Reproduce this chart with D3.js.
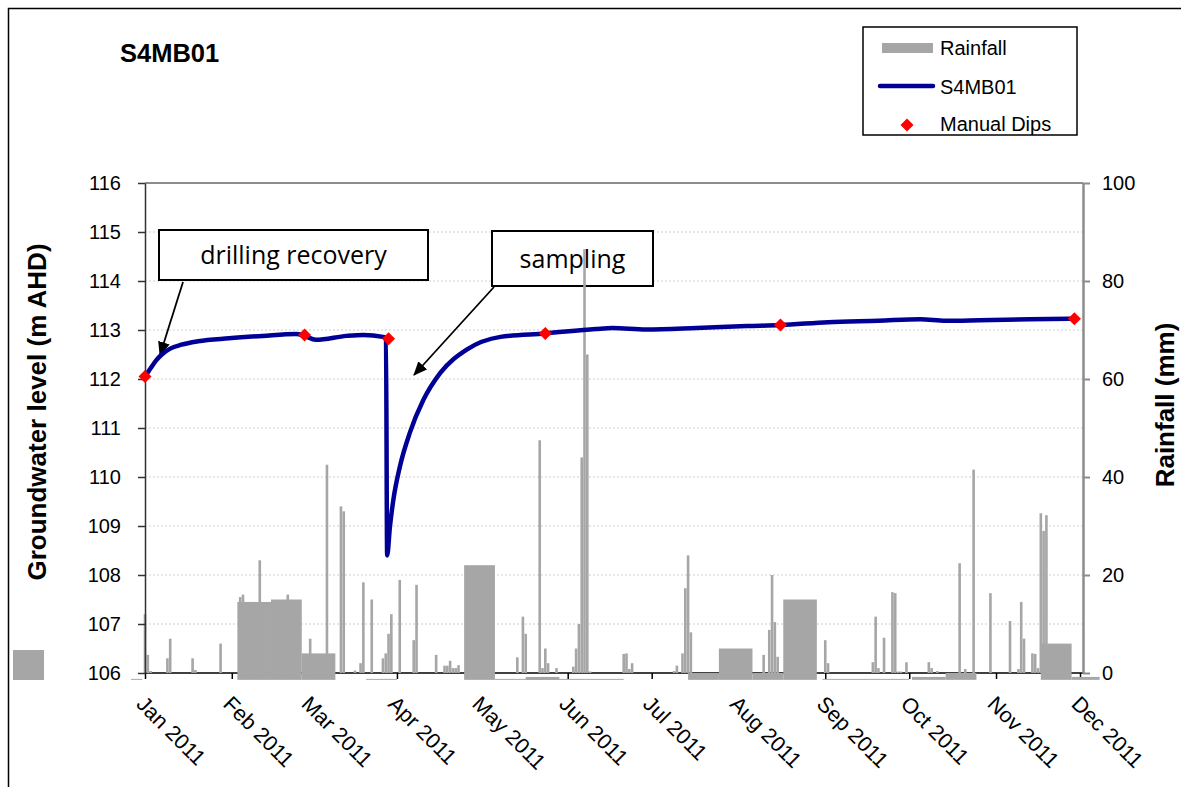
<!DOCTYPE html>
<html lang="en">
<head>
<meta charset="UTF-8">
<title>S4MB01</title>
<script src="https://cdn.jsdelivr.net/npm/d3@7/dist/d3.min.js"></script>
<style>
    body { margin: 0; background: #fff; }
    svg { display: block; font-family: "Liberation Sans", Arial, sans-serif; }
    .grid line { stroke: #cfcfcf; stroke-width: 1; stroke-dasharray: 2,2; }
    .tick text { font-size: 20px; fill: #000; }
    .callout text { font-family: "Open Sans", "Noto Sans", sans-serif; font-size: 25px; }
</style>
</head>
<body>
<script>
    const width = 1181;
    const height = 787;

    // groundwater level S4MB01 (m AHD), logger
    const levelDates = ['2011-01-01', '2011-01-03', '2011-01-05', '2011-01-07', '2011-01-10', '2011-01-14', '2011-01-20',
        '2011-01-31', '2011-02-12', '2011-02-24', '2011-02-27', '2011-03-03', '2011-03-14', '2011-03-20', '2011-03-27',
        '2011-03-28 02:00', '2011-03-28 12:00', '2011-03-29 12:00', '2011-03-30 17:00', '2011-04-02 02:00',
        '2011-04-05 14:00', '2011-04-10 10:00', '2011-04-16 10:00', '2011-04-25 22:00', '2011-05-08', '2011-05-24',
        '2011-06-11', '2011-06-17', '2011-06-29', '2011-07-17', '2011-08-04', '2011-08-16', '2011-09-02',
        '2011-09-20', '2011-10-05', '2011-10-14', '2011-10-26', '2011-11-13', '2011-11-29'];
    const levelValues = [112.05, 112.22, 112.38, 112.50, 112.62, 112.70, 112.77,
        112.83, 112.88, 112.92, 112.88, 112.80, 112.88, 112.90, 112.86,
        112.84, 108.40, 108.99, 109.53, 110.22,
        110.90, 111.57, 112.12, 112.60, 112.86, 112.93,
        113.02, 113.04, 113.01, 113.04, 113.08, 113.10, 113.16,
        113.19, 113.22, 113.19, 113.20, 113.22, 113.23];

    // manual dips
    const dipDates = ['2011-01-01', '2011-02-27', '2011-03-29', '2011-05-24', '2011-08-16', '2011-11-29'];
    const dipValues = [112.05, 112.90, 112.82, 112.93, 113.10, 113.23];

    // daily rainfall (mm)
    const rainDates = ['2011-01-01', '2011-01-02', '2011-01-03', '2011-01-09', '2011-01-10', '2011-01-18', '2011-01-19', '2011-01-28',
        '2011-02-04', '2011-02-05', '2011-02-11', '2011-02-21',
        '2011-03-01', '2011-03-07', '2011-03-12', '2011-03-13', '2011-03-17', '2011-03-19', '2011-03-20', '2011-03-23',
        '2011-03-27', '2011-03-28', '2011-03-29', '2011-03-30',
        '2011-04-02', '2011-04-07', '2011-04-08', '2011-04-15', '2011-04-18', '2011-04-19', '2011-04-20', '2011-04-21', '2011-04-22', '2011-04-23',
        '2011-05-14', '2011-05-16', '2011-05-17', '2011-05-22', '2011-05-23', '2011-05-24', '2011-05-25', '2011-05-28',
        '2011-06-03', '2011-06-04', '2011-06-05', '2011-06-06', '2011-06-07', '2011-06-08', '2011-06-09',
        '2011-06-21', '2011-06-22', '2011-06-23', '2011-06-24',
        '2011-07-09', '2011-07-10', '2011-07-12', '2011-07-13', '2011-07-14', '2011-07-15',
        '2011-08-10', '2011-08-12', '2011-08-13', '2011-08-14', '2011-08-15',
        '2011-09-01', '2011-09-02', '2011-09-18', '2011-09-19', '2011-09-20', '2011-09-22', '2011-09-25', '2011-09-26',
        '2011-09-27', '2011-09-28', '2011-09-30',
        '2011-10-08', '2011-10-09', '2011-10-11', '2011-10-19', '2011-10-21', '2011-10-24', '2011-10-30',
        '2011-11-06', '2011-11-09', '2011-11-10', '2011-11-11', '2011-11-14', '2011-11-15', '2011-11-16',
        '2011-11-17', '2011-11-18', '2011-11-19'];
    const rainValues = [12, 3.7, 0.4, 3, 7, 3, 0.6, 6,
        15.5, 16, 23, 16,
        7, 42.5, 34, 33, 0.5, 2, 18.5, 15,
        3, 4, 8, 12,
        19, 6.7, 18, 3.7, 1.5, 1.5, 2.5, 1, 1, 1.6,
        3.2, 11.5, 8, 47.5, 1, 5, 2, 1,
        1.3, 5, 10, 44, 86.5, 65, 0.3,
        3.9, 4, 0.8, 2,
        0.4, 1.5, 4, 17.3, 24, 8.3,
        3.7, 8.8, 20, 10.4, 3.3,
        6.7, 2, 2.2, 11.5, 1, 7.2, 16.5, 16.3,
        0.3, 0.3, 2.2,
        2.2, 1, 0.4, 22.4, 0.8, 41.5, 16.3,
        10.6, 0.8, 14.5, 7, 4, 3.9, 1,
        32.6, 29, 32.2];

    // accumulated rainfall over unlogged periods (mm), drawn from a lower base
    const periodStart = ['2010-12-27', '2011-02-03', '2011-02-15', '2011-02-26', '2011-03-21', '2011-04-25', '2011-05-06',
        '2011-05-17', '2011-07-14', '2011-07-25', '2011-08-06', '2011-08-17', '2011-08-31', '2011-10-02',
        '2011-10-14', '2011-11-17', '2011-11-28'];
    const periodEnd = ['2010-12-31', '2011-02-15', '2011-02-26', '2011-03-10', '2011-04-01', '2011-05-06', '2011-06-21',
        '2011-05-29', '2011-07-25', '2011-08-06', '2011-08-17', '2011-08-29', '2011-10-01', '2011-10-14',
        '2011-10-25', '2011-11-28', '2011-12-08'];
    const periodValues = [-1.2, 14.5, 15, 4, -1.2, 22, -1.2,
        -0.8, 0, 5, 0, 15, -1.2, -0.8,
        0, 6, -0.8];
    const periodBase = -1.4;

    const levelTicks = d3.range(106, 117);
    const rainTicks = [0, 20, 40, 60, 80, 100];

    const parseDay = d3.timeParse('%Y-%m-%d');
    const parseHour = d3.timeParse('%Y-%m-%d %H:%M');
    const toDate = s => s.length > 10 ? parseHour(s) : parseDay(s);

    const level = levelDates.map((d, i) => ({ date: toDate(d), v: levelValues[i] }));
    const dips = dipDates.map((d, i) => ({ date: toDate(d), v: dipValues[i] }));
    const rain = rainDates.map((d, i) => ({ date: toDate(d), v: rainValues[i] }));
    const periods = periodStart.map((d, i) => ({ s: toDate(d), e: toDate(periodEnd[i]), v: periodValues[i] }));
    const monthTicks = d3.timeMonth.range(toDate('2011-01-01'), toDate('2011-12-02'));

    const plotLeft = 145, plotRight = 1083, plotTop = 183, plotBottom = 673;

    const x = d3.scaleTime()
        .domain([toDate('2011-01-01'), toDate('2011-12-01')])
        .range([plotLeft, 1080]);
    const yL = d3.scaleLinear().domain([106, 116]).range([plotBottom, plotTop]);
    const yR = d3.scaleLinear().domain([0, 100]).range([plotBottom, plotTop]);

    const svg = d3.select('body')
        .append('svg')
        .attr('width', width)
        .attr('height', height);

    // chart border
    svg.append('rect')
        .attr('x', 8.5).attr('y', 8.5)
        .attr('width', 1185).attr('height', 795)
        .attr('fill', 'none').attr('stroke', '#000').attr('stroke-width', 1.5);

    svg.append('text')
        .attr('x', 120).attr('y', 62)
        .style('font-size', '25.5px').style('font-weight', 'bold')
        .text('S4MB01');

    // gridlines
    svg.append('g').attr('class', 'grid')
        .selectAll('line')
        .data(levelTicks.filter(t => t > 106 && t < 116))
        .enter().append('line')
        .attr('x1', plotLeft).attr('x2', plotRight)
        .attr('y1', d => yL(d)).attr('y2', d => yL(d));

    // plot frame top
    svg.append('line')
        .attr('x1', plotLeft).attr('x2', plotRight)
        .attr('y1', plotTop).attr('y2', plotTop)
        .attr('stroke', '#8c8c8c').attr('stroke-width', 2);

    // callouts (rain columns are drawn over them)
    svg.append('defs').append('marker')
        .attr('id', 'arrow')
        .attr('markerUnits', 'userSpaceOnUse')
        .attr('viewBox', '0 0 14 12')
        .attr('refX', 13).attr('refY', 6)
        .attr('markerWidth', 14).attr('markerHeight', 12)
        .attr('orient', 'auto')
        .append('path')
        .attr('d', 'M0,0 L14,6 L0,12 Z')
        .attr('fill', '#000');

    const callouts = [
        { label: 'drilling recovery', x0: 159, y0: 230, w: 269, h: 50, ax: 183, ay: 282, tx: 160, ty: 355 },
        { label: 'sampling', x0: 492, y0: 231, w: 161, h: 55, ax: 494, ay: 287, tx: 414, ty: 375 }
    ];
    const co = svg.append('g').attr('class', 'callout')
        .selectAll('g')
        .data(callouts)
        .enter().append('g');
    co.append('line')
        .attr('x1', d => d.ax).attr('y1', d => d.ay)
        .attr('x2', d => d.tx).attr('y2', d => d.ty)
        .attr('stroke', '#000').attr('stroke-width', 1.8)
        .attr('marker-end', 'url(#arrow)');
    co.append('rect')
        .attr('x', d => d.x0).attr('y', d => d.y0)
        .attr('width', d => d.w).attr('height', d => d.h)
        .attr('fill', '#fff').attr('stroke', '#000').attr('stroke-width', 2);
    co.append('text')
        .attr('x', d => d.x0 + d.w / 2)
        .attr('y', d => d.y0 + d.h / 2 + 9)
        .style('text-anchor', 'middle')
        .text(d => d.label);

    // x axis
    const xAxis = svg.append('g')
        .attr('transform', 'translate(0,' + plotBottom + ')')
        .call(d3.axisBottom(x).tickValues(monthTicks).tickSize(6).tickSizeOuter(0)
            .tickFormat(d3.timeFormat('%b %Y')));
    xAxis.select('.domain').remove();
    xAxis.selectAll('.tick line').attr('stroke', '#000').attr('stroke-width', 1.5);
    xAxis.selectAll('.tick text')
        .attr('x', 0).attr('y', 0).attr('dy', '0.35em')
        .attr('transform', 'translate(-5,27) rotate(45)')
        .style('text-anchor', 'start')
        .style('font-size', '21.5px');
    svg.append('line')
        .attr('x1', plotLeft).attr('x2', plotRight)
        .attr('y1', plotBottom).attr('y2', plotBottom)
        .attr('stroke', '#000').attr('stroke-width', 1.5);

    // rainfall: period blocks then daily columns
    const rainColor = '#a6a6a6';
    svg.append('g')
        .selectAll('rect')
        .data(periods)
        .enter().append('rect')
        .attr('x', d => x(d.s))
        .attr('width', d => x(d.e) - x(d.s))
        .attr('y', d => yR(d.v))
        .attr('height', d => yR(periodBase) - yR(d.v))
        .attr('fill', rainColor);

    svg.append('g')
        .selectAll('rect')
        .data(rain)
        .enter().append('rect')
        .attr('x', d => x(d.date) - 1.3)
        .attr('width', 2.6)
        .attr('y', d => yR(d.v))
        .attr('height', d => yR(0) - yR(d.v))
        .attr('fill', rainColor);

    // left axis
    const leftAxis = svg.append('g')
        .attr('transform', 'translate(' + plotLeft + ',0)')
        .call(d3.axisLeft(yL).tickValues(levelTicks).tickSize(7).tickSizeOuter(0).tickPadding(17)
            .tickFormat(d3.format('d')));
    leftAxis.select('.domain').attr('stroke', '#333').attr('stroke-width', 1.5);
    leftAxis.selectAll('.tick line').attr('stroke', '#333').attr('stroke-width', 1.5);

    // right axis
    const rightAxis = svg.append('g')
        .attr('transform', 'translate(' + plotRight + ',0)')
        .call(d3.axisRight(yR).tickValues(rainTicks).tickSize(7).tickSizeOuter(0).tickPadding(12));
    rightAxis.select('.domain').attr('stroke', '#8c8c8c').attr('stroke-width', 2.5);
    rightAxis.selectAll('.tick line').attr('stroke', '#8c8c8c').attr('stroke-width', 2);

    svg.append('text')
        .attr('transform', 'translate(46,412) rotate(-90)')
        .style('text-anchor', 'middle')
        .style('font-size', '26px').style('font-weight', 'bold')
        .text('Groundwater level (m AHD)');
    svg.append('text')
        .attr('transform', 'translate(1174,405) rotate(-90)')
        .style('text-anchor', 'middle')
        .style('font-size', '26px').style('font-weight', 'bold')
        .text('Rainfall (mm)');

    // groundwater line
    const line = d3.line()
        .x(d => x(d.date))
        .y(d => yL(d.v))
        .curve(d3.curveMonotoneX);
    svg.append('path')
        .datum(level)
        .attr('d', line)
        .attr('fill', 'none')
        .attr('stroke', '#000096')
        .attr('stroke-width', 4.5)
        .attr('stroke-linejoin', 'round');

    const diamond = d3.symbol().type(d3.symbolSquare).size(85);
    svg.append('g')
        .selectAll('path')
        .data(dips)
        .enter().append('path')
        .attr('d', diamond)
        .attr('transform', d => 'translate(' + x(d.date) + ',' + yL(d.v) + ') rotate(45)')
        .attr('fill', '#ff0000');

    // legend
    const legend = svg.append('g');
    legend.append('rect')
        .attr('x', 863).attr('y', 27).attr('width', 214).attr('height', 108)
        .attr('fill', '#fff').attr('stroke', '#000').attr('stroke-width', 1.5);
    legend.append('rect')
        .attr('x', 882).attr('y', 43).attr('width', 51).attr('height', 10)
        .attr('fill', rainColor);
    legend.append('line')
        .attr('x1', 880).attr('x2', 933).attr('y1', 86).attr('y2', 86)
        .attr('stroke', '#000096').attr('stroke-width', 4.5).attr('stroke-linecap', 'round');
    legend.append('path')
        .attr('d', diamond)
        .attr('transform', 'translate(907,125) rotate(45)')
        .attr('fill', '#ff0000');
    const legendLabels = ['Rainfall', 'S4MB01', 'Manual Dips'];
    const legendY = [55, 94, 131];
    legend.selectAll('text.lab')
        .data(legendLabels)
        .enter().append('text')
        .attr('class', 'lab')
        .attr('x', 940)
        .attr('y', (d, i) => legendY[i])
        .style('font-size', '20px')
        .text(d => d);

    // stray rainfall swatch at left edge
    svg.append('rect')
        .attr('x', 13).attr('y', 650).attr('width', 31).attr('height', 30)
        .attr('fill', rainColor);
</script>
</body>
</html>
